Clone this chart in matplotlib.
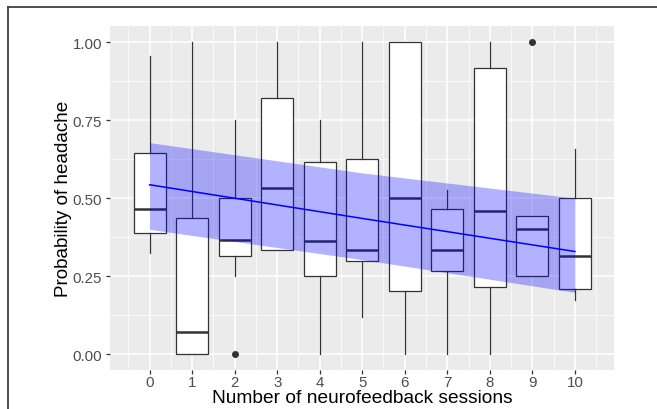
import matplotlib
matplotlib.use("Agg")
from matplotlib import pyplot as plt
from matplotlib.lines import Line2D
import numpy as np

plt.rcParams['font.family'] = ['Liberation Sans', 'DejaVu Sans']

# sessions on the x axis
sessions = [0, 1, 2, 3, 4, 5, 6, 7, 8, 9, 10]
# box statistics
whisker_low = [0.323, 0.0, 0.251, 0.333, 0.0, 0.118, 0.0, 0.0, 0.0, 0.25, 0.174]
q1 = [0.388, 0.0, 0.313, 0.333, 0.25, 0.30, 0.202, 0.268, 0.216, 0.25, 0.21]
median = [0.464, 0.071, 0.366, 0.533, 0.364, 0.333, 0.5, 0.333, 0.458, 0.40, 0.313]
q3 = [0.646, 0.437, 0.5, 0.82, 0.616, 0.625, 1.0, 0.464, 0.917, 0.444, 0.5]
whisker_high = [0.955, 1.0, 0.75, 1.0, 0.75, 1.0, 1.0, 0.526, 1.0, 0.444, 0.659]
outliers = [[], [], [0.0], [], [], [], [], [], [], [1.0], []]

# fitted trend and its band
fit_x = [0, 5, 10]
fit_y = [0.543, 0.435, 0.329]
band_low = [0.40, 0.303, 0.198]
band_high = [0.678, 0.581, 0.50]

fig = plt.figure(figsize=(6.57, 4.10), dpi=100)
ax = fig.add_axes([110 / 657, 1 - 370.7 / 410, 504 / 657, 343.7 / 410])
ax.set_facecolor('#ebebeb')

stats = []
for i in range(len(sessions)):
    stats.append(dict(whislo=whisker_low[i], q1=q1[i], med=median[i],
                      q3=q3[i], whishi=whisker_high[i], fliers=outliers[i]))

ax.bxp(stats, positions=sessions, widths=0.75, showcaps=False, patch_artist=True,
       boxprops=dict(facecolor='white', edgecolor='#333333', linewidth=0.9),
       whiskerprops=dict(color='#333333', linewidth=0.9),
       medianprops=dict(color='#333333', linewidth=1.8),
       flierprops=dict(marker='o', markerfacecolor='#333333', markeredgecolor='#333333',
                       markersize=4),
       zorder=2)

ax.fill_between(fit_x, band_low, band_high, color='#0000ff', alpha=0.3,
                linewidth=0, zorder=3)
ax.plot(fit_x, fit_y, color='#0000ff', linewidth=1.1, zorder=4)

ax.set_xlim(-0.93, 10.92)
ax.set_ylim(-0.05, 1.052)
ax.set_xticks(sessions)
ax.set_xticklabels([str(s) for s in sessions])
ax.set_xticks(np.arange(-0.5, 11, 1), minor=True)
ax.set_yticks([0, 0.25, 0.5, 0.75, 1.0])
ax.set_yticklabels(['0.00', '0.25', '0.50', '0.75', '1.00'])
ax.set_yticks([0.125, 0.375, 0.625, 0.875], minor=True)

ax.grid(which='major', color='white', linewidth=1.1, zorder=0)
ax.grid(which='minor', color='white', linewidth=0.5, zorder=0)
ax.set_axisbelow(True)
for s in ax.spines.values():
    s.set_visible(False)
ax.tick_params(which='major', length=3.2, color='#333333', labelcolor='#4d4d4d',
               labelsize=10.8, width=0.9, pad=2.5)
ax.tick_params(axis='x', which='major', pad=0.5)
ax.tick_params(which='minor', length=0)

ax.set_xlabel('Number of neurofeedback sessions', fontsize=13.8, color='black')
ax.xaxis.label.set_va('baseline')
ax.xaxis.set_label_coords(0.501, -0.0931)
ax.set_ylabel('Probability of headache', fontsize=13.6, color='black')
ax.yaxis.label.set_va('center')
ax.yaxis.set_label_coords(-0.0913, 0.5)

# frame around the figure
fig.add_artist(Line2D([8 / 657, 1], [1 - 8 / 410, 1 - 8 / 410], transform=fig.transFigure,
                      color='#404040', linewidth=1.3))
fig.add_artist(Line2D([8 / 657, 8 / 657], [0, 1 - 8 / 410], transform=fig.transFigure,
                      color='#404040', linewidth=1.3))

fig.savefig('out.png', dpi=100)
